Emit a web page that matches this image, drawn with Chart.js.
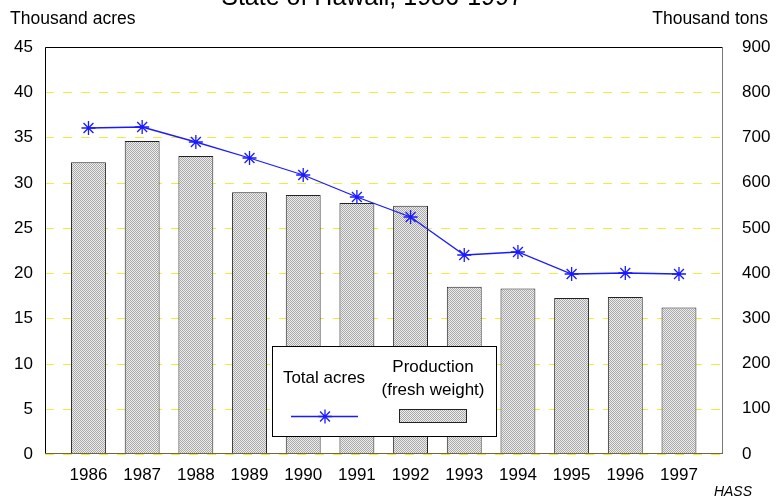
<!DOCTYPE html>
<html>
<head>
<meta charset="utf-8">
<script src="https://cdn.jsdelivr.net/npm/chart.js@4/dist/chart.umd.min.js"></script>
<style>
  html, body { margin: 0; padding: 0; background: #fff; }
</style>
</head>
<body>
<canvas id="myChart" width="778" height="501"></canvas>
<script>
// data
var years = [1986, 1987, 1988, 1989, 1990, 1991, 1992, 1993, 1994, 1995, 1996, 1997];
var acres = [36.0, 36.15, 34.5, 32.7, 30.9, 28.4, 26.2, 22.0, 22.3, 19.9, 20.0, 19.9];
var production = [645, 692, 659, 579, 573, 555, 549, 370, 366, 345, 347, 324];
var acreTicks = [0, 5, 10, 15, 20, 25, 30, 35, 40, 45];
var tonTicks = [0, 100, 200, 300, 400, 500, 600, 700, 800, 900];

var FONT = "'Liberation Sans', Arial, sans-serif";
Chart.defaults.font.family = FONT;
Chart.defaults.font.size = 17;
Chart.defaults.color = '#000';

// dotted grey fill for the bars
function makePattern() {
  var c = document.createElement('canvas');
  c.width = 2; c.height = 2;
  var g = c.getContext('2d');
  g.fillStyle = '#eeeeee';
  g.fillRect(0, 0, 2, 2);
  g.fillStyle = '#a8a8a8';
  g.fillRect(0, 0, 1, 1);
  g.fillRect(1, 1, 1, 1);
  return g.createPattern(c, 'repeat');
}
var ctx = document.getElementById('myChart').getContext('2d');
var barFill = makePattern();

var chromePlugin = {
  id: 'chrome',
  afterDatasetsDraw: function (chart) {
    var a = chart.chartArea, c = chart.ctx;
    c.save();
    c.lineWidth = 1;
    c.strokeStyle = '#000';
    c.beginPath();
    c.moveTo(a.left + 0.5, a.bottom);
    c.lineTo(a.left + 0.5, a.top + 0.5);
    c.lineTo(a.right - 0.5, a.top + 0.5);
    c.stroke();
    c.strokeStyle = '#777';
    c.beginPath();
    c.moveTo(a.right - 0.5, a.top);
    c.lineTo(a.right - 0.5, a.bottom);
    c.stroke();
    c.strokeStyle = '#6b6b3a';
    c.beginPath();
    c.moveTo(a.left, a.bottom - 0.5);
    c.lineTo(a.right, a.bottom - 0.5);
    c.stroke();
    c.restore();
  },
  afterDraw: function (chart) {
    var c = chart.ctx;
    c.save();
    c.fillStyle = '#000';
    // title, cut by the top edge
    c.font = '25px ' + FONT;
    c.textAlign = 'center';
    c.textBaseline = 'alphabetic';
    c.fillText('State of Hawaii, 1986-1997', 372, 5);
    // axis titles
    c.font = '17.5px ' + FONT;
    c.textAlign = 'left';
    c.fillText('Thousand acres', 10, 24);
    c.textAlign = 'right';
    c.fillText('Thousand tons', 768, 24);
    c.font = 'italic 14px ' + FONT;
    c.fillText('HASS', 752, 496);

    // legend box
    c.fillStyle = '#fff';
    c.fillRect(272, 346, 225, 91);
    c.strokeStyle = '#000';
    c.lineWidth = 1;
    c.strokeRect(272.5, 346.5, 224, 90);
    c.fillStyle = '#000';
    c.font = '17px ' + FONT;
    c.textAlign = 'center';
    c.textBaseline = 'middle';
    c.fillText('Total acres', 324, 378);
    c.fillText('Production', 433, 367);
    c.fillText('(fresh weight)', 433, 390);
    var ds = chart.data.datasets[0];
    c.strokeStyle = ds.borderColor;
    c.lineWidth = ds.borderWidth;
    c.beginPath();
    c.moveTo(291, 416.5);
    c.lineTo(358, 416.5);
    c.stroke();
    c.lineWidth = ds.pointBorderWidth;
    Chart.helpers.drawPoint(c, { pointStyle: 'star', radius: ds.pointRadius, rotation: 0, borderWidth: ds.pointBorderWidth }, 325, 416.5);
    c.fillStyle = barFill;
    c.fillRect(399, 409, 68, 14);
    c.strokeStyle = '#222';
    c.lineWidth = 1;
    c.strokeRect(399.5, 409.5, 67, 13);
    c.restore();
  }
};

var chart = new Chart(ctx, {
  type: 'bar',
  data: {
    datasets: [{
      type: 'line',
      label: 'Total acres',
      data: years.map(function (y, i) { return { x: y, y: acres[i] }; }),
      yAxisID: 'yAcres',
      borderColor: '#1a1aff',
      backgroundColor: '#1a1aff',
      borderWidth: 1.3,
      pointStyle: 'star',
      pointRadius: 7,
      pointBorderWidth: 1.3,
      tension: 0,
      order: 0
    }, {
      type: 'bar',
      label: 'Production (fresh weight)',
      data: years.map(function (y, i) { return { x: y, y: production[i] }; }),
      yAxisID: 'yTons',
      backgroundColor: barFill,
      borderColor: '#222',
      borderWidth: 1,
      categoryPercentage: 1,
      barPercentage: 0.65,
      order: 1
    }]
  },
  options: {
    responsive: false,
    devicePixelRatio: 1,
    animation: false,
    layout: { padding: { top: 47, left: 0, right: 0, bottom: 0 } },
    plugins: { legend: { display: false }, tooltip: { enabled: false } },
    scales: {
      x: {
        type: 'linear',
        offset: false,
        min: 1985.19,
        max: 1997.82,
        grid: { display: false },
        border: { display: false },
        afterBuildTicks: function (s) { s.ticks = years.map(function (v) { return { value: v }; }); },
        afterFit: function (s) { s.height = 47; },
        ticks: { padding: 3, callback: function (v) { return String(v); } }
      },
      yAcres: {
        position: 'left',
        min: 0,
        max: 45,
        alignToPixels: true,
        afterBuildTicks: function (s) { s.ticks = acreTicks.map(function (v) { return { value: v }; }); },
        afterFit: function (s) { s.width = 45; },
        grid: { color: '#eded3c', lineWidth: 1, drawTicks: false },
        border: { display: false, dash: [9, 9] },
        ticks: { padding: 12 }
      },
      yTons: {
        position: 'right',
        min: 0,
        max: 900,
        afterBuildTicks: function (s) { s.ticks = tonTicks.map(function (v) { return { value: v }; }); },
        afterFit: function (s) { s.width = 55; },
        grid: { display: false },
        border: { display: false },
        ticks: { padding: 11 }
      }
    }
  },
  plugins: [chromePlugin]
});
</script>
</body>
</html>
